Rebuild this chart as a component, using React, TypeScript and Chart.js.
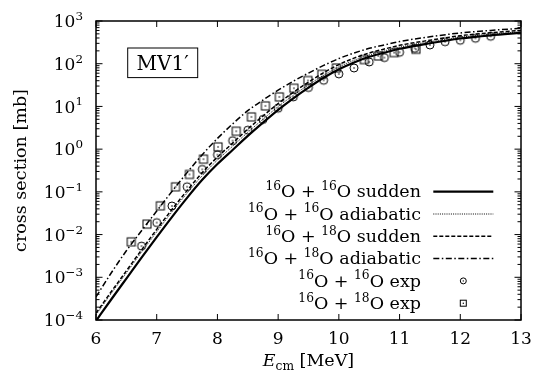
import React, { useEffect, useRef } from "react";
import { Chart, registerables } from "chart.js";

Chart.register(...registerables);

// ---------- data (cross sections in mb, energies in MeV) ----------
const energyGrid = [6.0, 6.25, 6.5, 6.75, 7.0, 7.25, 7.5, 7.75, 8.0, 8.25, 8.5, 8.75, 9.0, 9.25, 9.5, 9.75, 10.0, 10.25, 10.5, 10.75, 11.0, 11.5, 12.0, 12.5, 13.0];

const sigma1616Sudden = [9.55e-5, 3.02e-4, 9.33e-4, 2.88e-3, 8.71e-3, 2.57e-2, 7.24e-2, 0.191, 0.447, 0.955, 2.04, 4.17, 8.32, 15.5, 27.5, 46.8, 74.1, 107, 145, 182, 224, 302, 389, 462, 525];
const sigma1616Adiabatic = [1.32e-4, 4.17e-4, 1.27e-3, 3.89e-3, 1.16e-2, 3.39e-2, 9.33e-2, 0.24, 0.556, 1.17, 2.48, 5.01, 9.89, 18.2, 32.0, 53.7, 84.1, 120, 160, 200, 245, 327, 417, 495, 562];
const sigma1618Sudden = [1.45e-4, 4.57e-4, 1.41e-3, 4.37e-3, 1.32e-2, 3.85e-2, 0.107, 0.282, 0.653, 1.38, 2.95, 5.96, 11.7, 21.4, 37.2, 61.7, 95.5, 135, 178, 221, 269, 355, 452, 531, 603];
const sigma1618Adiabatic = [3.47e-4, 1.26e-3, 4.17e-3, 1.23e-2, 3.55e-2, 0.102, 0.282, 0.741, 1.78, 3.89, 7.94, 14.1, 24.0, 38.9, 60.3, 91.2, 132, 178, 229, 275, 331, 427, 525, 603, 676];

const exp1616Energy = [6.75, 7.0, 7.25, 7.5, 7.75, 8.0, 8.25, 8.5, 8.75, 9.0, 9.25, 9.5, 9.75, 10.0, 10.25, 10.5, 10.75, 11.0, 11.25, 11.5, 11.75, 12.0, 12.25, 12.5];
const exp1616Sigma = [5.37e-3, 1.91e-2, 4.68e-2, 0.132, 0.335, 0.741, 1.58, 2.78, 4.97, 9.08, 16.7, 27.7, 41.0, 57.7, 79.4, 110, 139, 185, 229, 275, 327, 354, 394, 439];

const exp1618Energy = [6.58, 6.84, 7.06, 7.31, 7.54, 7.77, 8.01, 8.31, 8.56, 8.79, 9.02, 9.26, 9.49, 9.72, 9.96, 10.42, 10.65, 10.91, 11.27];
const exp1618Sigma = [6.76e-3, 1.76e-2, 4.71e-2, 0.131, 0.256, 0.583, 1.13, 2.63, 5.69, 10.3, 16.7, 26.7, 40.4, 56.6, 79.6, 125, 152, 182, 218];

const xTickValues = [6, 7, 8, 9, 10, 11, 12, 13];
const yTickExponents = [-4, -3, -2, -1, 0, 1, 2, 3];
const yTickLabels = ["10^{−4}", "10^{−3}", "10^{−2}", "10^{−1}", "10^{0}", "10^{1}", "10^{2}", "10^{3}"];
const legendLabels = [
  "^{16}O + ^{16}O sudden",
  "^{16}O + ^{16}O adiabatic",
  "^{16}O + ^{18}O sudden",
  "^{16}O + ^{18}O adiabatic",
  "^{16}O + ^{16}O exp",
  "^{16}O + ^{18}O exp",
];
const xTitle = "E_{cm} [MeV]";
const yTitle = "cross section [mb]";
const boxLabel = "MV1′";

const FONT = '"DejaVu Serif", serif';

// ---------- rich text helpers ----------
type Seg = { t: string; kind: "n" | "sup" | "sub"; italic?: boolean };
function parseRich(s: string): Seg[] {
  const out: Seg[] = [];
  const re = /([\^_])\{([^}]*)\}/g;
  let last = 0;
  let m: RegExpExecArray | null;
  while ((m = re.exec(s))) {
    if (m.index > last) out.push({ t: s.slice(last, m.index), kind: "n" });
    out.push({ t: m[2], kind: m[1] === "^" ? "sup" : "sub" });
    last = re.lastIndex;
  }
  if (last < s.length) out.push({ t: s.slice(last), kind: "n" });
  return out;
}
function segFont(seg: Seg, size: number) {
  const sz = seg.kind === "n" ? size : size * 0.7;
  return `${seg.italic ? "italic " : ""}${sz}px ${FONT}`;
}
function richWidth(ctx: CanvasRenderingContext2D, segs: Seg[], size: number) {
  let w = 0;
  for (const s of segs) {
    ctx.font = segFont(s, size);
    w += ctx.measureText(s.t).width;
  }
  return w;
}
function drawRich(
  ctx: CanvasRenderingContext2D,
  segs: Seg[],
  x: number,
  baseline: number,
  size: number,
  align: "left" | "right" | "center"
) {
  const w = richWidth(ctx, segs, size);
  let cx = align === "left" ? x : align === "right" ? x - w : x - w / 2;
  ctx.textAlign = "left";
  ctx.textBaseline = "alphabetic";
  for (const s of segs) {
    ctx.font = segFont(s, size);
    const dy = s.kind === "sup" ? -0.42 * size : s.kind === "sub" ? 0.22 * size : 0;
    ctx.fillText(s.t, cx, baseline + dy);
    cx += ctx.measureText(s.t).width;
  }
}

function makeMarker(kind: "circle" | "square", r: number) {
  const c = document.createElement("canvas");
  const size = 12;
  c.width = size;
  c.height = size;
  const g = c.getContext("2d")!;
  g.strokeStyle = "#000";
  g.fillStyle = "#000";
  g.lineWidth = 1;
  if (kind === "circle") {
    g.beginPath();
    g.arc(size / 2, size / 2, r, 0, Math.PI * 2);
    g.stroke();
  } else {
    g.strokeRect(size / 2 - r, size / 2 - r, 2 * r, 2 * r);
  }
  g.beginPath();
  g.arc(size / 2, size / 2, 0.8, 0, Math.PI * 2);
  g.fill();
  return c;
}

const lineStyles = [
  { dash: [] as number[], width: 2.2 },
  { dash: [1, 1.2], width: 1 },
  { dash: [4, 2], width: 1.5 },
  { dash: [6, 2.5, 1.5, 2.5], width: 1.5 },
];

const decorPlugin = {
  id: "decor",
  afterDraw(chart: any) {
    const { ctx, chartArea: a, scales } = chart;
    const xs = scales.x;
    const ys = scales.y;
    ctx.save();
    ctx.strokeStyle = "#000";
    ctx.fillStyle = "#000";
    const seg = (x1: number, y1: number, x2: number, y2: number) => {
      ctx.beginPath();
      ctx.moveTo(x1, y1);
      ctx.lineTo(x2, y2);
      ctx.stroke();
    };
    // ticks
    ctx.lineWidth = 1;
    for (const v of xTickValues) {
      const px = xs.getPixelForValue(v);
      seg(px, a.bottom, px, a.bottom - 6);
      seg(px, a.top, px, a.top + 6);
    }
    for (const e of yTickExponents) {
      for (let m = 1; m <= 9; m++) {
        if (e === 3 && m > 1) break;
        const py = ys.getPixelForValue(m * Math.pow(10, e));
        const len = m === 1 ? 6.5 : 3.5;
        seg(a.left, py, a.left + len, py);
        seg(a.right, py, a.right - len, py);
      }
    }
    // frame
    ctx.lineWidth = 1.5;
    ctx.strokeRect(a.left, a.top, a.right - a.left, a.bottom - a.top);

    // x tick labels
    const tickSize = 17;
    ctx.font = `${tickSize}px ${FONT}`;
    ctx.textAlign = "center";
    ctx.textBaseline = "alphabetic";
    for (const v of xTickValues) {
      ctx.fillText(String(v), xs.getPixelForValue(v), a.bottom + 24);
    }
    // y tick labels
    yTickExponents.forEach((e, i) => {
      const py = ys.getPixelForValue(Math.pow(10, e));
      drawRich(ctx, parseRich(yTickLabels[i]), a.left - 13, py + 0.36 * tickSize, tickSize, "right");
    });

    // x title
    const xt = parseRich(xTitle);
    xt[0].italic = true;
    drawRich(ctx, xt, (a.left + a.right) / 2, a.bottom + 46, 17.5, "center");

    // y title
    ctx.save();
    ctx.translate(21, (a.top + a.bottom) / 2);
    ctx.rotate(-Math.PI / 2);
    ctx.font = `17.5px ${FONT}`;
    ctx.textAlign = "center";
    ctx.textBaseline = "middle";
    ctx.fillText(yTitle, 0, 0);
    ctx.restore();

    // MV1' box
    ctx.lineWidth = 1;
    const bx = a.left + 31.7;
    const by = a.top + 27;
    const bw = 70;
    const bh = 29.6;
    ctx.strokeRect(bx, by, bw, bh);
    ctx.font = `20px ${FONT}`;
    ctx.textAlign = "center";
    ctx.textBaseline = "alphabetic";
    ctx.fillText(boxLabel, bx + bw / 2, by + bh / 2 + 7);

    // legend
    const legSize = 17.5;
    const textRight = a.right - 100;
    const sx1 = a.right - 87.7;
    const sx2 = a.right - 27.7;
    const y0 = a.bottom - 128.3;
    legendLabels.forEach((lab, i) => {
      const y = y0 + i * 22.3;
      drawRich(ctx, parseRich(lab), textRight, y + 0.33 * legSize, legSize, "right");
      if (i < 4) {
        const st = lineStyles[i];
        ctx.save();
        ctx.lineWidth = st.width;
        ctx.setLineDash(st.dash);
        seg(sx1, y, sx2, y);
        ctx.restore();
      } else {
        const cx = (sx1 + sx2) / 2;
        ctx.lineWidth = 1;
        if (i === 4) {
          ctx.beginPath();
          ctx.arc(cx, y, 3, 0, Math.PI * 2);
          ctx.stroke();
        } else {
          ctx.strokeRect(cx - 3, y - 3, 6, 6);
        }
        ctx.beginPath();
        ctx.arc(cx, y, 0.7, 0, Math.PI * 2);
        ctx.fill();
      }
    });
    ctx.restore();
  },
};

export default function App() {
  const ref = useRef<HTMLCanvasElement | null>(null);
  useEffect(() => {
    document.body.style.margin = "0";
    const canvas = ref.current!;
    const circleImg = makeMarker("circle", 4);
    const squareImg = makeMarker("square", 4);
    const toXY = (xs: number[], ys: number[]) => xs.map((x, i) => ({ x, y: ys[i] }));
    const curve = (data: number[], i: number) => ({
      data: toXY(energyGrid, data),
      borderColor: "#000",
      borderWidth: lineStyles[i].width,
      borderDash: lineStyles[i].dash,
      pointRadius: 0,
      cubicInterpolationMode: "monotone" as const,
      fill: false,
    });
    const chart = new Chart(canvas, {
      type: "line",
      data: {
        datasets: [
          { label: legendLabels[0], ...curve(sigma1616Sudden, 0) },
          { label: legendLabels[1], ...curve(sigma1616Adiabatic, 1) },
          { label: legendLabels[2], ...curve(sigma1618Sudden, 2) },
          { label: legendLabels[3], ...curve(sigma1618Adiabatic, 3) },
          {
            label: legendLabels[4],
            data: toXY(exp1616Energy, exp1616Sigma),
            showLine: false,
            pointStyle: circleImg,
            pointRadius: 4,
            borderColor: "#000",
          },
          {
            label: legendLabels[5],
            data: toXY(exp1618Energy, exp1618Sigma),
            showLine: false,
            pointStyle: squareImg,
            pointRadius: 4,
            borderColor: "#000",
          },
        ],
      },
      options: {
        responsive: false,
        animation: false,
        events: [],
        layout: { padding: { top: 21, right: 19, left: 0, bottom: 0 } },
        plugins: { legend: { display: false }, tooltip: { enabled: false } },
        scales: {
          x: {
            type: "linear",
            min: 6,
            max: 13,
            grid: { display: false },
            border: { display: false },
            ticks: { display: false },
            afterFit: (s: any) => {
              s.height = 56;
            },
          },
          y: {
            type: "logarithmic",
            min: 1e-4,
            max: 1e3,
            grid: { display: false },
            border: { display: false },
            ticks: { display: false },
            afterFit: (s: any) => {
              s.width = 96;
            },
          },
        },
      },
      plugins: [decorPlugin],
    });
    return () => chart.destroy();
  }, []);
  return <canvas ref={ref} width={540} height={376} style={{ display: "block" }} />;
}
